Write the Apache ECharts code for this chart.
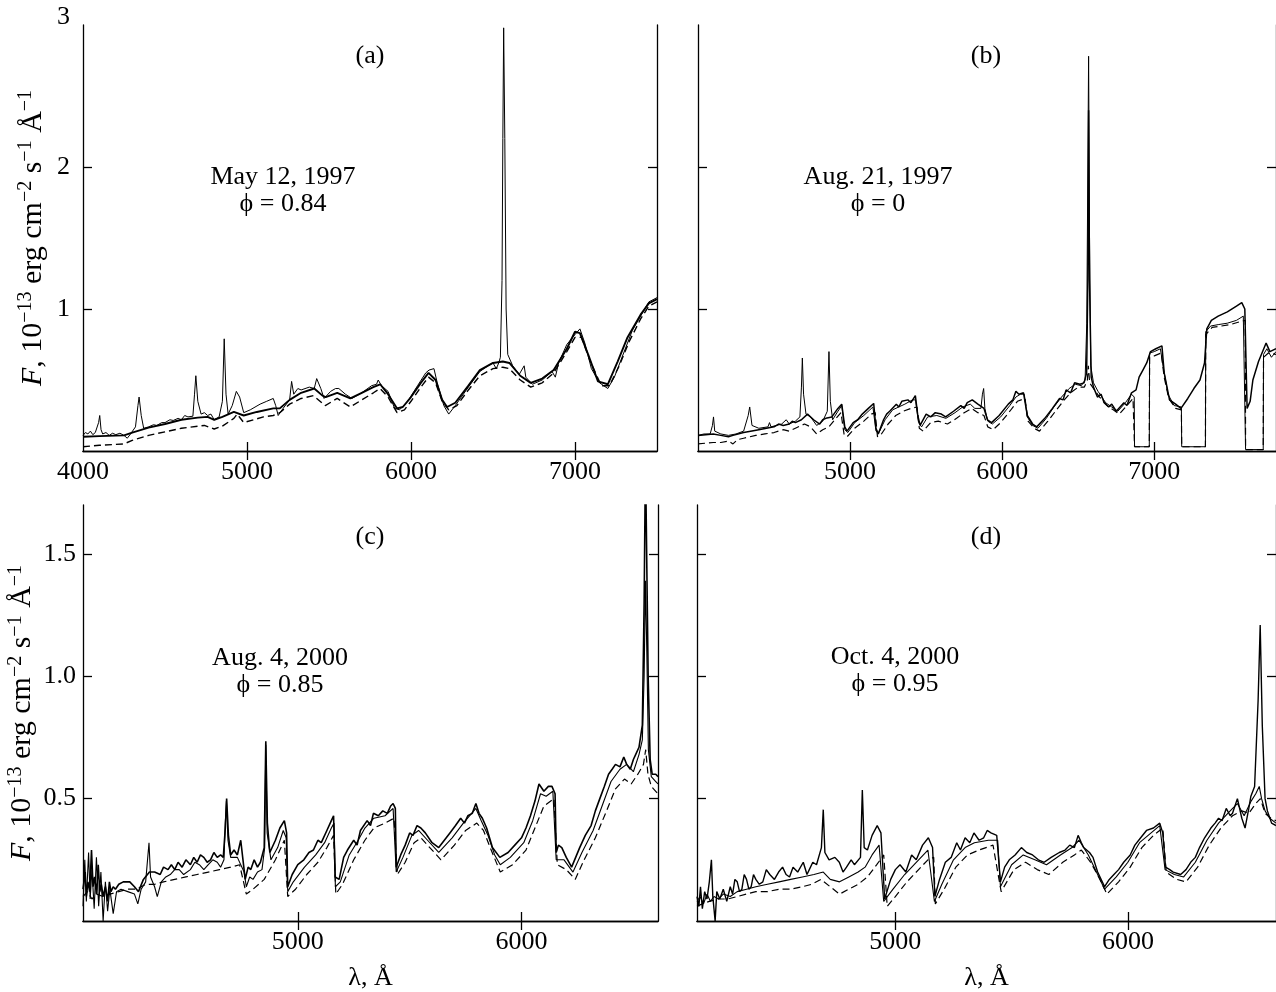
<!DOCTYPE html>
<html><head><meta charset="utf-8">
<script src="https://cdn.jsdelivr.net/npm/echarts@6/dist/echarts.min.js"></script>
<style>html,body{margin:0;padding:0;background:#fff}#c{width:1276px;height:992px}</style>
</head><body><div id="c"></div>
<script>
// ---------- DATA: [wavelength (Å), flux (1e-13 erg cm^-2 s^-1 Å^-1)] ----------
// Panel (a) May 12, 1997
const aBold = [[4000,0.10],[4100,0.105],[4250,0.11],[4300,0.13],[4400,0.165],[4500,0.19],[4600,0.22],[4700,0.235],[4760,0.24],[4800,0.22],[4850,0.24],[4920,0.275],[4980,0.25],[5060,0.275],[5160,0.30],[5200,0.30],[5260,0.36],[5330,0.41],[5410,0.44],[5460,0.39],[5480,0.38],[5550,0.41],[5630,0.37],[5700,0.41],[5770,0.45],[5812,0.47],[5860,0.40],[5915,0.30],[5950,0.31],[6000,0.38],[6060,0.48],[6107,0.55],[6150,0.50],[6190,0.36],[6220,0.31],[6270,0.34],[6350,0.46],[6420,0.57],[6500,0.62],[6560,0.63],[6600,0.62],[6666,0.53],[6730,0.48],[6800,0.51],[6870,0.57],[6950,0.72],[7000,0.84],[7030,0.83],[7080,0.68],[7140,0.49],[7200,0.47],[7260,0.63],[7320,0.80],[7400,0.96],[7450,1.04],[7500,1.07]];
const aThin = [[4000,0.11],[4015,0.13],[4030,0.12],[4045,0.14],[4060,0.115],[4075,0.13],[4085,0.12],[4095,0.2],[4102,0.25],[4110,0.15],[4120,0.12],[4140,0.13],[4160,0.11],[4180,0.125],[4200,0.115],[4225,0.125],[4250,0.11],[4270,0.09],[4290,0.12],[4320,0.17],[4335,0.32],[4342,0.38],[4355,0.25],[4370,0.16],[4400,0.17],[4430,0.185],[4450,0.18],[4480,0.2],[4500,0.2],[4530,0.22],[4550,0.215],[4580,0.23],[4600,0.22],[4620,0.25],[4640,0.24],[4670,0.245],[4680,0.40],[4688,0.53],[4700,0.35],[4720,0.26],[4740,0.27],[4760,0.25],[4780,0.26],[4800,0.22],[4830,0.24],[4850,0.35],[4861,0.79],[4872,0.40],[4885,0.26],[4910,0.32],[4935,0.42],[4955,0.38],[4980,0.27],[5020,0.29],[5080,0.33],[5120,0.35],[5160,0.37],[5175,0.32],[5190,0.25],[5220,0.30],[5260,0.36],[5272,0.49],[5285,0.40],[5310,0.44],[5330,0.43],[5380,0.45],[5410,0.44],[5425,0.51],[5450,0.44],[5470,0.37],[5510,0.42],[5540,0.44],[5560,0.44],[5600,0.40],[5640,0.37],[5700,0.41],[5760,0.46],[5790,0.47],[5800,0.50],[5820,0.46],[5860,0.42],[5900,0.30],[5930,0.29],[5980,0.35],[6040,0.46],[6090,0.55],[6110,0.57],[6140,0.58],[6160,0.48],[6200,0.32],[6230,0.26],[6270,0.32],[6350,0.45],[6420,0.56],[6470,0.60],[6500,0.62],[6520,0.58],[6535,0.62],[6545,0.66],[6555,1.2],[6560,2.2],[6565,2.98],[6572,2.2],[6580,1.0],[6590,0.68],[6620,0.60],[6660,0.54],[6690,0.60],[6700,0.52],[6740,0.47],[6800,0.50],[6860,0.56],[6880,0.52],[6900,0.62],[6950,0.75],[7000,0.82],[7030,0.86],[7060,0.76],[7100,0.58],[7150,0.48],[7200,0.44],[7240,0.52],[7300,0.70],[7350,0.85],[7400,0.95],[7450,1.05],[7500,1.08]];
const aDash = [[4000,0.03],[4100,0.04],[4250,0.05],[4300,0.075],[4400,0.11],[4500,0.135],[4600,0.16],[4700,0.175],[4740,0.18],[4800,0.155],[4850,0.175],[4920,0.23],[4940,0.26],[4980,0.20],[5040,0.22],[5100,0.24],[5160,0.25],[5200,0.27],[5260,0.33],[5330,0.37],[5405,0.39],[5477,0.32],[5550,0.37],[5630,0.31],[5700,0.36],[5771,0.41],[5812,0.44],[5860,0.38],[5915,0.27],[5960,0.29],[6000,0.35],[6060,0.45],[6107,0.52],[6150,0.48],[6190,0.35],[6230,0.29],[6280,0.32],[6350,0.43],[6420,0.53],[6500,0.58],[6560,0.59],[6600,0.58],[6666,0.50],[6730,0.45],[6800,0.48],[6870,0.55],[6950,0.70],[7000,0.80],[7040,0.80],[7090,0.64],[7160,0.46],[7210,0.46],[7270,0.60],[7330,0.77],[7400,0.93],[7450,1.02],[7500,1.05]];

// Panel (b) Aug. 21, 1997
const bBold = [[4000,0.11],[4050,0.115],[4100,0.12],[4150,0.11],[4200,0.10],[4230,0.11],[4300,0.13],[4400,0.15],[4450,0.16],[4500,0.17],[4530,0.19],[4560,0.18],[4600,0.19],[4620,0.21],[4640,0.20],[4680,0.22],[4720,0.26],[4760,0.22],[4800,0.19],[4820,0.22],[4840,0.23],[4880,0.24],[4920,0.30],[4945,0.33],[4965,0.17],[4980,0.14],[5020,0.20],[5050,0.22],[5080,0.26],[5120,0.30],[5155,0.335],[5170,0.16],[5185,0.12],[5220,0.22],[5240,0.26],[5260,0.28],[5304,0.33],[5320,0.31],[5340,0.35],[5380,0.36],[5400,0.34],[5429,0.39],[5445,0.25],[5460,0.18],[5500,0.26],[5530,0.24],[5560,0.27],[5600,0.26],[5628,0.24],[5680,0.28],[5728,0.32],[5750,0.30],[5770,0.34],[5803,0.36],[5840,0.33],[5880,0.30],[5903,0.22],[5930,0.20],[5980,0.25],[6040,0.33],[6070,0.36],[6090,0.42],[6110,0.40],[6140,0.41],[6165,0.25],[6200,0.19],[6227,0.17],[6280,0.23],[6330,0.30],[6377,0.37],[6400,0.36],[6420,0.43],[6450,0.41],[6476,0.48],[6510,0.47],[6538,0.48],[6555,0.55],[6563,1.2],[6568,2.4],[6574,1.2],[6585,0.52],[6600,0.45],[6626,0.38],[6650,0.40],[6670,0.34],[6700,0.31],[6720,0.33],[6750,0.28],[6800,0.34],[6820,0.32],[6850,0.41],[6880,0.43],[6900,0.52],[6925,0.57],[6950,0.62],[6975,0.70],[7010,0.72],[7050,0.74],[7065,0.55],[7100,0.36],[7140,0.33],[7175,0.30],[7220,0.37],[7260,0.44],[7300,0.50],[7330,0.62],[7345,0.86],[7375,0.92],[7420,0.95],[7480,0.98],[7540,1.02],[7575,1.045],[7595,1.00],[7610,0.30],[7630,0.35],[7648,0.50],[7685,0.63],[7735,0.76],[7760,0.70],[7800,0.72]];
const bThin = [[4000,0.11],[4040,0.12],[4080,0.12],[4095,0.18],[4102,0.24],[4110,0.14],[4150,0.12],[4200,0.11],[4250,0.12],[4300,0.14],[4330,0.25],[4340,0.31],[4355,0.18],[4400,0.16],[4460,0.17],[4470,0.20],[4480,0.17],[4550,0.19],[4580,0.22],[4600,0.19],[4640,0.21],[4670,0.24],[4680,0.45],[4686,0.655],[4694,0.40],[4710,0.26],[4740,0.24],[4780,0.18],[4820,0.21],[4850,0.28],[4861,0.70],[4870,0.35],[4885,0.22],[4920,0.28],[4945,0.32],[4965,0.15],[4985,0.13],[5030,0.20],[5090,0.25],[5130,0.29],[5150,0.31],[5170,0.14],[5190,0.13],[5230,0.22],[5280,0.29],[5320,0.31],[5360,0.33],[5410,0.36],[5430,0.36],[5450,0.20],[5470,0.17],[5510,0.24],[5570,0.25],[5630,0.23],[5690,0.27],[5740,0.31],[5790,0.33],[5820,0.30],[5860,0.30],[5870,0.40],[5878,0.44],[5886,0.30],[5905,0.21],[5935,0.19],[5990,0.24],[6050,0.32],[6090,0.38],[6120,0.40],[6145,0.40],[6165,0.24],[6200,0.18],[6235,0.16],[6290,0.23],[6340,0.31],[6390,0.38],[6440,0.44],[6480,0.47],[6520,0.46],[6545,0.50],[6556,0.9],[6563,2.0],[6568,2.78],[6574,1.5],[6582,0.6],[6600,0.48],[6630,0.42],[6680,0.34],[6720,0.31],[6760,0.28],[6810,0.34],[6850,0.40],[6868,0.38],[6870,0.03],[6967,0.03],[6969,0.69],[7000,0.70],[7040,0.72],[7060,0.58],[7090,0.40],[7130,0.32],[7178,0.31],[7180,0.03],[7336,0.03],[7338,0.84],[7370,0.88],[7420,0.89],[7480,0.90],[7540,0.92],[7585,0.95],[7598,0.94],[7600,0.01],[7716,0.01],[7718,0.68],[7740,0.72],[7770,0.66],[7800,0.70]];
const bDash = [[4000,0.05],[4050,0.055],[4100,0.06],[4150,0.06],[4200,0.07],[4230,0.05],[4260,0.08],[4300,0.09],[4380,0.11],[4440,0.12],[4500,0.13],[4560,0.15],[4600,0.14],[4640,0.16],[4700,0.19],[4740,0.17],[4780,0.12],[4820,0.15],[4860,0.17],[4900,0.22],[4940,0.27],[4960,0.12],[4980,0.10],[5030,0.16],[5090,0.21],[5140,0.26],[5165,0.27],[5180,0.10],[5200,0.11],[5250,0.19],[5300,0.25],[5350,0.28],[5400,0.30],[5440,0.31],[5455,0.16],[5480,0.14],[5530,0.20],[5580,0.21],[5640,0.19],[5700,0.23],[5750,0.27],[5800,0.30],[5840,0.27],[5880,0.25],[5905,0.17],[5940,0.15],[5990,0.20],[6050,0.28],[6100,0.35],[6150,0.37],[6170,0.21],[6210,0.16],[6245,0.14],[6300,0.21],[6350,0.28],[6400,0.35],[6450,0.41],[6500,0.45],[6540,0.45],[6560,0.50],[6566,0.60],[6575,0.48],[6600,0.44],[6640,0.38],[6690,0.32],[6730,0.29],[6770,0.26],[6820,0.32],[6860,0.37],[6868,0.36],[6870,0.03],[6967,0.03],[6969,0.66],[7000,0.67],[7045,0.69],[7065,0.52],[7095,0.37],[7140,0.30],[7178,0.29],[7180,0.03],[7336,0.03],[7338,0.82],[7380,0.87],[7440,0.88],[7500,0.89],[7560,0.91],[7598,0.92],[7600,0.01],[7716,0.01],[7718,0.66],[7750,0.69],[7800,0.68]];

// Panel (c) Aug. 4, 2000
const cBold = [[4040,0.13],[4050,0.20],[4055,0.10],[4062,0.16],[4070,0.12],[4078,0.29],[4085,0.14],[4092,0.18],[4100,0.11],[4108,0.23],[4115,0.12],[4122,0.15],[4130,0.10],[4140,0.14],[4150,0.08],[4158,0.16],[4165,0.12],[4175,0.14],[4185,0.13],[4200,0.15],[4220,0.16],[4249,0.16],[4270,0.14],[4288,0.12],[4310,0.17],[4337,0.20],[4360,0.20],[4385,0.19],[4400,0.22],[4420,0.21],[4435,0.23],[4450,0.21],[4465,0.24],[4483,0.22],[4500,0.25],[4520,0.23],[4535,0.26],[4550,0.24],[4565,0.27],[4580,0.26],[4595,0.24],[4610,0.25],[4625,0.28],[4640,0.26],[4655,0.27],[4667,0.26],[4676,0.38],[4682,0.50],[4690,0.35],[4700,0.27],[4715,0.29],[4730,0.27],[4745,0.33],[4755,0.25],[4765,0.17],[4778,0.22],[4790,0.21],[4805,0.25],[4820,0.22],[4833,0.24],[4850,0.30],[4857,0.735],[4864,0.40],[4875,0.28],[4900,0.33],[4920,0.38],[4940,0.41],[4950,0.36],[4955,0.14],[4975,0.19],[5000,0.23],[5027,0.25],[5050,0.28],[5070,0.29],[5090,0.33],[5105,0.32],[5130,0.37],[5150,0.41],[5160,0.43],[5167,0.18],[5185,0.17],[5205,0.26],[5222,0.29],[5250,0.33],[5265,0.31],[5280,0.37],[5310,0.41],[5325,0.39],[5338,0.44],[5360,0.43],[5380,0.45],[5400,0.44],[5415,0.47],[5426,0.48],[5436,0.46],[5440,0.22],[5460,0.27],[5480,0.31],[5500,0.36],[5515,0.35],[5533,0.39],[5550,0.38],[5570,0.36],[5600,0.32],[5630,0.30],[5655,0.33],[5680,0.36],[5705,0.39],[5728,0.42],[5745,0.40],[5760,0.43],[5780,0.44],[5796,0.48],[5810,0.44],[5825,0.42],[5844,0.38],[5870,0.30],[5903,0.26],[5940,0.28],[5970,0.31],[6000,0.34],[6020,0.38],[6040,0.43],[6060,0.49],[6078,0.56],[6100,0.53],[6120,0.55],[6136,0.55],[6150,0.52],[6155,0.28],[6165,0.31],[6180,0.30],[6200,0.26],[6224,0.22],[6260,0.30],[6285,0.35],[6311,0.39],[6330,0.45],[6350,0.50],[6370,0.55],[6389,0.60],[6405,0.62],[6420,0.64],[6440,0.63],[6457,0.67],[6470,0.64],[6486,0.62],[6500,0.66],[6510,0.68],[6525,0.71],[6540,0.80],[6548,1.3],[6554,1.9],[6560,1.9],[6566,1.0],[6575,0.66],[6584,0.60],[6600,0.60],[6610,0.59]];
const cThin = [[4040,0.06],[4048,0.25],[4055,0.08],[4065,0.28],[4072,0.09],[4080,0.21],[4090,0.05],[4100,0.26],[4110,0.06],[4120,0.20],[4130,0.0],[4140,0.16],[4150,0.04],[4160,0.13],[4175,0.03],[4190,0.12],[4210,0.13],[4240,0.12],[4270,0.11],[4285,0.07],[4300,0.13],[4320,0.16],[4335,0.32],[4342,0.18],[4360,0.14],[4372,0.10],[4390,0.16],[4410,0.18],[4430,0.19],[4450,0.21],[4470,0.21],[4490,0.19],[4520,0.21],[4540,0.24],[4560,0.23],[4580,0.21],[4600,0.23],[4620,0.25],[4640,0.24],[4655,0.22],[4670,0.25],[4676,0.40],[4681,0.49],[4688,0.33],[4700,0.26],[4730,0.26],[4760,0.20],[4770,0.14],[4785,0.18],[4800,0.17],[4820,0.20],[4840,0.21],[4852,0.30],[4857,0.72],[4863,0.36],[4880,0.25],[4910,0.30],[4935,0.37],[4948,0.34],[4955,0.12],[4980,0.16],[5030,0.22],[5080,0.27],[5120,0.32],[5150,0.38],[5162,0.40],[5168,0.14],[5190,0.16],[5230,0.27],[5270,0.33],[5300,0.38],[5340,0.42],[5390,0.43],[5426,0.46],[5440,0.20],[5470,0.26],[5510,0.35],[5540,0.37],[5580,0.33],[5630,0.28],[5690,0.34],[5740,0.40],[5796,0.46],[5820,0.41],[5850,0.35],[5880,0.27],[5905,0.23],[5950,0.26],[6010,0.32],[6050,0.41],[6085,0.52],[6110,0.51],[6140,0.53],[6155,0.25],[6190,0.25],[6230,0.20],[6270,0.28],[6320,0.37],[6360,0.47],[6400,0.57],[6440,0.62],[6470,0.64],[6500,0.61],[6525,0.68],[6540,0.74],[6548,1.0],[6554,1.39],[6560,1.1],[6567,0.7],[6580,0.59],[6600,0.57],[6610,0.56]];
const cDash = [[4040,0.10],[4060,0.12],[4080,0.09],[4100,0.11],[4130,0.10],[4160,0.11],[4200,0.12],[4240,0.13],[4280,0.13],[4320,0.15],[4360,0.15],[4400,0.16],[4450,0.17],[4500,0.18],[4550,0.19],[4600,0.20],[4650,0.21],[4700,0.22],[4740,0.23],[4770,0.11],[4800,0.13],[4850,0.17],[4900,0.25],[4940,0.33],[4955,0.10],[4990,0.13],[5040,0.19],[5090,0.24],[5130,0.30],[5160,0.35],[5170,0.11],[5200,0.15],[5250,0.25],[5300,0.33],[5340,0.38],[5390,0.40],[5430,0.42],[5445,0.19],[5480,0.24],[5520,0.32],[5550,0.34],[5590,0.30],[5640,0.25],[5700,0.31],[5750,0.37],[5800,0.40],[5830,0.37],[5860,0.30],[5905,0.20],[5960,0.23],[6020,0.29],[6060,0.38],[6100,0.47],[6145,0.50],[6160,0.23],[6200,0.21],[6240,0.17],[6280,0.25],[6330,0.34],[6380,0.45],[6420,0.54],[6460,0.58],[6490,0.56],[6520,0.60],[6545,0.64],[6555,0.70],[6565,0.60],[6580,0.55],[6600,0.53],[6610,0.52]];

// Panel (d) Oct. 4, 2000
const dThin = [[4147,0.10],[4155,0.06],[4162,0.14],[4170,0.05],[4180,0.12],[4190,0.09],[4200,0.16],[4209,0.25],[4215,0.10],[4225,0.0],[4232,0.12],[4245,0.09],[4260,0.13],[4275,0.08],[4290,0.14],[4300,0.11],[4310,0.17],[4320,0.16],[4330,0.12],[4340,0.13],[4350,0.19],[4360,0.17],[4370,0.13],[4380,0.14],[4390,0.19],[4400,0.17],[4415,0.15],[4430,0.16],[4445,0.21],[4460,0.19],[4480,0.17],[4498,0.20],[4515,0.22],[4530,0.19],[4545,0.18],[4560,0.22],[4580,0.20],[4604,0.24],[4620,0.19],[4630,0.21],[4645,0.24],[4661,0.23],[4682,0.30],[4690,0.455],[4697,0.28],[4715,0.25],[4740,0.26],[4759,0.24],[4775,0.20],[4790,0.22],[4810,0.25],[4824,0.23],[4850,0.26],[4858,0.535],[4866,0.30],[4880,0.29],[4900,0.35],[4922,0.39],[4938,0.36],[4954,0.09],[4980,0.17],[5000,0.21],[5020,0.23],[5045,0.20],[5070,0.27],[5090,0.25],[5117,0.31],[5142,0.34],[5160,0.30],[5170,0.10],[5190,0.17],[5215,0.24],[5240,0.26],[5264,0.32],[5280,0.29],[5300,0.34],[5320,0.32],[5338,0.36],[5360,0.33],[5380,0.34],[5395,0.37],[5411,0.36],[5436,0.35],[5452,0.16],[5470,0.22],[5490,0.25],[5515,0.27],[5542,0.30],[5565,0.28],[5590,0.27],[5615,0.25],[5640,0.24],[5670,0.26],[5705,0.28],[5730,0.29],[5750,0.31],[5770,0.30],[5786,0.35],[5800,0.32],[5810,0.30],[5835,0.28],[5850,0.26],[5870,0.20],[5900,0.14],[5920,0.17],[5940,0.19],[5960,0.21],[5982,0.24],[6010,0.27],[6030,0.31],[6055,0.34],[6080,0.37],[6110,0.38],[6137,0.40],[6150,0.36],[6162,0.22],[6180,0.21],[6195,0.20],[6227,0.19],[6250,0.21],[6270,0.24],[6290,0.26],[6308,0.30],[6330,0.34],[6357,0.38],[6375,0.40],[6390,0.42],[6405,0.41],[6423,0.46],[6440,0.43],[6450,0.44],[6471,0.50],[6490,0.42],[6504,0.38],[6520,0.46],[6529,0.51],[6545,0.55],[6560,0.9],[6569,1.21],[6578,0.8],[6590,0.50],[6600,0.45],[6618,0.40],[6637,0.39]];
const dMid = [[4147,0.08],[4160,0.10],[4175,0.07],[4190,0.11],[4205,0.08],[4220,0.10],[4240,0.09],[4260,0.11],[4290,0.10],[4320,0.12],[4360,0.13],[4400,0.14],[4450,0.15],[4500,0.16],[4550,0.17],[4600,0.18],[4650,0.19],[4690,0.20],[4720,0.17],[4760,0.16],[4800,0.18],[4840,0.20],[4870,0.22],[4900,0.27],[4930,0.31],[4950,0.08],[4990,0.13],[5040,0.19],[5090,0.24],[5140,0.29],[5168,0.08],[5200,0.15],[5250,0.25],[5300,0.30],[5340,0.32],[5400,0.33],[5440,0.33],[5452,0.14],[5500,0.23],[5550,0.27],[5600,0.25],[5650,0.23],[5710,0.27],[5760,0.30],[5790,0.33],[5830,0.27],[5870,0.19],[5900,0.13],[5950,0.18],[6000,0.24],[6050,0.32],[6100,0.36],[6137,0.39],[6160,0.21],[6200,0.19],[6240,0.18],[6290,0.24],[6340,0.33],[6390,0.40],[6440,0.45],[6471,0.48],[6500,0.43],[6530,0.49],[6550,0.52],[6565,0.55],[6575,0.50],[6590,0.45],[6610,0.42],[6637,0.40]];
const dDash = [[4147,0.06],[4170,0.07],[4200,0.08],[4240,0.09],[4280,0.09],[4320,0.10],[4360,0.11],[4400,0.12],[4450,0.12],[4500,0.13],[4550,0.13],[4600,0.14],[4640,0.15],[4680,0.17],[4720,0.14],[4760,0.11],[4800,0.13],[4840,0.15],[4880,0.18],[4920,0.23],[4950,0.27],[4965,0.06],[5000,0.10],[5050,0.16],[5100,0.21],[5140,0.25],[5165,0.26],[5172,0.07],[5210,0.13],[5260,0.22],[5310,0.27],[5360,0.29],[5420,0.31],[5455,0.12],[5510,0.21],[5560,0.24],[5610,0.21],[5660,0.19],[5720,0.24],[5770,0.27],[5800,0.29],[5840,0.24],[5880,0.17],[5910,0.11],[5960,0.16],[6010,0.22],[6060,0.30],[6110,0.35],[6150,0.38],[6165,0.20],[6210,0.17],[6250,0.16],[6300,0.22],[6350,0.31],[6400,0.38],[6450,0.43],[6490,0.45],[6520,0.44],[6550,0.48],[6570,0.50],[6590,0.44],[6615,0.42],[6637,0.41]];

// Axis ticks / labels
const aXTicks = [5000,6000,7000], aXLabels = [4000,5000,6000,7000], aYTicks = [1,2], aYLabels = [1,2,3];
const bXTicks = [5000,6000,7000], bXLabels = [5000,6000,7000], bYTicks = [1,2];
const cdXTicks = [5000,6000], cdXLabels = [5000,6000], cdYTicks = [0.5,1.0,1.5], cYLabels = [0.5,1.0,1.5];

const dates = ['May 12, 1997','Aug. 21, 1997','Aug. 4, 2000','Oct. 4, 2000'];
const phases = ['0.84','0','0.85','0.95'];
const tags = ['(a)','(b)','(c)','(d)'];

// ---------- CHART ----------
const FONT = '"Liberation Serif","Times New Roman",serif';
const FS = 26;
const yName = '{i|F}, 10{s|−13} erg cm{s|−2} s{s|−1} Å{s|−1}';
const yNameStyle = {
  fontFamily: FONT, fontSize: 30, color: '#000', lineHeight: 34,
  rich: {
    i: {fontFamily: FONT, fontSize: 30, fontStyle: 'italic', lineHeight: 34, color:'#000'},
    s: {fontFamily: FONT, fontSize: 20, lineHeight: 16, verticalAlign: 'top', color:'#000'}
  }
};

const panels = [
  {grid:{left:83, top:25, width:574, height:426}, xr:[4000,7500], yr:[0,3], xt:aXTicks, xl:aXLabels, yt:aYTicks, yl:aYLabels, yfmt: v => (v===3 ? '{t|3}' : String(v)), yMargin: 13, yName: true, xName: false,
   series:[[aDash,'dashed',1.4],[aBold,'solid',1.9],[aThin,'solid',1.0]], txt:[370,56,283,177,204]},
  {grid:{left:698, top:25, width:580, height:426}, xr:[4000,7800], yr:[0,3], xt:bXTicks, xl:bXLabels, yt:bYTicks, yl:[], yfmt: v=>String(v), yMargin: 13, yName:false, xName:false,
   series:[[bDash,'dashed',1.2],[bBold,'solid',1.5],[bThin,'solid',1.0]], txt:[986,56,878,177,204]},
  {grid:{left:83, top:505, width:575, height:426}, xr:[4040,6610], yr:[0,1.7], xt:cdXTicks, xl:cdXLabels, yt:cdYTicks, yl:cYLabels, yfmt: v=>v.toFixed(1), yMargin: 7, yName:true, xName:true,
   series:[[cDash,'dashed',1.2],[cThin,'solid',1.1],[cBold,'solid',1.6]], txt:[370,537,280,658,685]},
  {grid:{left:697, top:505, width:580, height:426}, xr:[4147,6637], yr:[0,1.7], xt:cdXTicks, xl:cdXLabels, yt:cdYTicks, yl:[], yfmt: v=>v.toFixed(1), yMargin: 7, yName:false, xName:true,
   series:[[dDash,'dashed',1.2],[dMid,'solid',1.1],[dThin,'solid',1.4]], txt:[986,537,895,657,684]}
];

const axLine = {show:true, lineStyle:{color:'#000', width:1.3}};
const tickBase = {show:true, inside:true, length:9, lineStyle:{color:'#000', width:1.3}};
const grids=[], xAxes=[], yAxes=[], series=[], graphics=[];
panels.forEach((p, i) => {
  grids.push(Object.assign({show:false, containLabel:false}, p.grid));
  xAxes.push({type:'value', gridIndex:i, position:'bottom', min:p.xr[0], max:p.xr[1],
    axisLine:axLine, splitLine:{show:false},
    axisTick:Object.assign({customValues:p.xt}, tickBase),
    axisLabel:{show:true, customValues:p.xl, margin:8, fontFamily:FONT, fontSize:FS, color:'#000', formatter: v => String(v)},
    name: p.xName ? 'λ, Å' : '', nameLocation:'middle', nameGap:44,
    nameTextStyle:{fontFamily:FONT, fontSize:FS, color:'#000'}});
  xAxes.push({type:'value', gridIndex:i, position:'top', min:p.xr[0], max:p.xr[1],
    axisLine:axLine, splitLine:{show:false},
    axisTick:Object.assign({customValues:p.xt}, tickBase), axisLabel:{show:false}});
  yAxes.push({type:'value', gridIndex:i, position:'left', min:p.yr[0], max:p.yr[1],
    axisLine:axLine, splitLine:{show:false},
    axisTick:Object.assign({customValues:p.yt}, tickBase),
    axisLabel:{show:p.yl.length>0, customValues:p.yl, margin:p.yMargin, fontFamily:FONT, fontSize:FS, color:'#000',
      formatter:p.yfmt, rich:{t:{fontFamily:FONT, fontSize:FS, color:'#000', lineHeight:26, padding:[0,0,16,0]}}},
    name: p.yName ? yName : '', nameLocation:'middle', nameRotate:90, nameGap:33, nameTextStyle:yNameStyle});
  yAxes.push({type:'value', gridIndex:i, position:'right', min:p.yr[0], max:p.yr[1],
    axisLine:axLine, splitLine:{show:false},
    axisTick:Object.assign({customValues:p.yt}, tickBase), axisLabel:{show:false}});
  p.series.forEach(([data, type, w]) => {
    series.push({type:'line', xAxisIndex:2*i, yAxisIndex:2*i, data:data, showSymbol:false, symbol:'none',
      clip:true, animation:false, silent:true,
      lineStyle:{color:'#000', width:w, type: type==='dashed' ? [7,4] : 'solid'}});
  });
  const t = p.txt;
  const ts = {fontFamily:FONT, fontSize:FS, fill:'#000', align:'center', verticalAlign:'middle'};
  graphics.push({type:'text', x:t[0], y:t[1], style:Object.assign({text:tags[i]}, ts)});
  graphics.push({type:'text', x:t[2], y:t[3], style:Object.assign({text:dates[i]}, ts)});
  graphics.push({type:'text', x:t[2], y:t[4], style:Object.assign({text:'ϕ = ' + phases[i]}, ts)});
});

const chart = echarts.init(document.getElementById('c'), null, {renderer:'canvas'});
chart.setOption({
  animation:false, backgroundColor:'#fff',
  grid:grids, xAxis:xAxes, yAxis:yAxes, series:series, graphic:graphics
});
</script></body></html>
